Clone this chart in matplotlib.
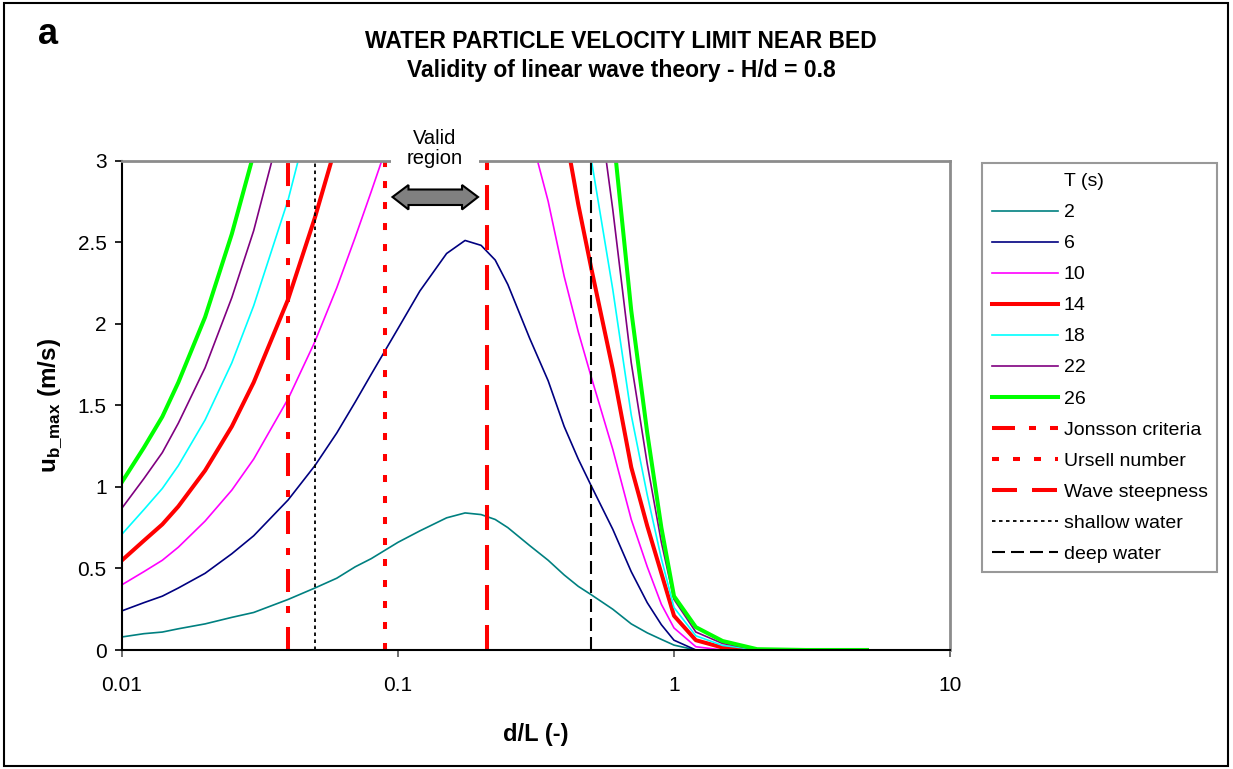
import matplotlib
matplotlib.use("Agg")
import matplotlib.pyplot as plt
from matplotlib.lines import Line2D
from matplotlib.patches import Rectangle, Polygon

plt.rcParams['font.family'] = ['Liberation Sans', 'DejaVu Sans']
plt.rcParams['mathtext.fontset'] = 'custom'
plt.rcParams['mathtext.rm'] = 'Liberation Sans'
plt.rcParams['mathtext.bf'] = 'Liberation Sans:bold'
plt.rcParams['lines.scale_dashes'] = False

# ── Data ─────────────────────────────────────────────────────────────────
d_over_L = [0.01, 0.012, 0.014, 0.016, 0.02, 0.025, 0.03, 0.04, 0.05, 0.06,
            0.07, 0.08, 0.1, 0.12, 0.15, 0.175, 0.2, 0.225, 0.25, 0.3,
            0.35, 0.4, 0.45, 0.5, 0.6, 0.7, 0.8, 0.9, 1.0, 1.2,
            1.5, 2, 3, 4, 5]

periods = ['2', '6', '10', '14', '18', '22', '26']

u_T2 = [0.08, 0.10, 0.11, 0.13, 0.16, 0.20, 0.23, 0.31, 0.38, 0.44,
        0.51, 0.56, 0.66, 0.73, 0.81, 0.84, 0.83, 0.80, 0.75, 0.64,
        0.55, 0.46, 0.39, 0.34, 0.25, 0.16, 0.105, 0.065, 0.03, 0.0,
        0.0, 0.0, 0, 0, 0]
u_T6 = [0.24, 0.29, 0.33, 0.38, 0.47, 0.59, 0.70, 0.92, 1.13, 1.33,
        1.52, 1.69, 1.97, 2.20, 2.43, 2.51, 2.48, 2.39, 2.24, 1.91,
        1.65, 1.37, 1.17, 1.01, 0.74, 0.48, 0.29, 0.155, 0.06, 0.0,
        0, 0, 0, 0, 0]
u_T10 = [0.40, 0.48, 0.55, 0.63, 0.79, 0.98, 1.17, 1.54, 1.89, 2.22,
         2.53, 2.81, 3.29, 3.67, 4.05, 4.19, 4.14, 3.98, 3.73, 3.18,
         2.75, 2.29, 1.95, 1.68, 1.23, 0.80, 0.51, 0.28, 0.135, 0.02,
         0.0, 0, 0, 0, 0]
u_T14 = [0.55, 0.67, 0.77, 0.88, 1.10, 1.37, 1.64, 2.15, 2.65, 3.11,
         3.54, 3.93, 4.61, 5.13, 5.67, 5.86, 5.80, 5.57, 5.22, 4.45,
         3.85, 3.21, 2.73, 2.35, 1.72, 1.12, 0.76, 0.47, 0.21, 0.06,
         0.015, 0.0, 0, 0, 0]
u_T18 = [0.71, 0.86, 0.99, 1.13, 1.41, 1.76, 2.11, 2.76, 3.40, 4.00,
         4.55, 5.06, 5.92, 6.60, 7.29, 7.53, 7.45, 7.16, 6.71, 5.72,
         4.95, 4.12, 3.51, 3.02, 2.21, 1.44, 0.95, 0.56, 0.26, 0.087,
         0.028, 0.002, 0, 0, 0]
u_T22 = [0.87, 1.05, 1.21, 1.39, 1.73, 2.16, 2.57, 3.38, 4.16, 4.88,
         5.56, 6.18, 7.24, 8.06, 8.91, 9.21, 9.11, 8.75, 8.20, 6.99,
         6.05, 5.04, 4.29, 3.70, 2.70, 1.76, 1.14, 0.66, 0.31, 0.11,
         0.04, 0.003, 0, 0, 0]
u_T26 = [1.03, 1.24, 1.43, 1.64, 2.04, 2.55, 3.04, 3.99, 4.91, 5.77,
         6.57, 7.31, 8.55, 9.53, 10.53, 10.88, 10.76, 10.34, 9.69, 8.26,
         7.15, 5.95, 5.07, 4.37, 3.19, 2.08, 1.33, 0.75, 0.33, 0.14,
         0.055, 0.005, 0, 0, 0]

criteria_names = ['Jonsson criteria', 'Ursell number', 'Wave steepness',
                  'shallow water', 'deep water']
criteria_x = [0.04, 0.0894, 0.21, 0.05, 0.5]

# ── Styles ───────────────────────────────────────────────────────────────
series = [u_T2, u_T6, u_T10, u_T14, u_T18, u_T22, u_T26]
colors = ['#008080', '#000080', '#FF00FF', '#FF0000', '#00FFFF', '#800080', '#00FF00']
widths = [1.2, 1.2, 1.2, 2.9, 1.2, 1.2, 2.9]

PX = 1 / 1.389  # pixel -> point at 100 dpi
crit_styles = [
    dict(color='#FF0000', lw=2.9, dashes=(23 * PX, 14 * PX, 7 * PX, 14 * PX)),
    dict(color='#FF0000', lw=2.9, dashes=(7 * PX, 14 * PX)),
    dict(color='#FF0000', lw=2.9, dashes=(25 * PX, 15 * PX)),
    dict(color='black', lw=1.3, dashes=(3.5 * PX, 3.5 * PX)),
    dict(color='black', lw=1.5, dashes=(13 * PX, 6 * PX)),
]

W, H = 1233, 769
fig = plt.figure(figsize=(W / 100, H / 100), dpi=100)
fig.patch.set_facecolor('white')
ax = fig.add_axes([122 / W, 1 - 650 / H, (950 - 122) / W, (650 - 160.5) / H])

handles = [Line2D([], [], color='none', label='T (s)')]
for vals, c, lw, lab in zip(series, colors, widths, periods):
    ln, = ax.plot(d_over_L, vals, color=c, lw=lw, label=lab,
                  solid_joinstyle='round')
    handles.append(ln)

for xv, name, st in zip(criteria_x, criteria_names, crit_styles):
    ln = ax.axvline(xv, label=name, **st)
    handles.append(ln)

ax.set_xscale('log')
ax.set_xlim(0.01, 10)
ax.set_ylim(0, 3)
ax.set_xticks([0.01, 0.1, 1, 10])
ax.set_xticklabels(['0.01', '0.1', '1', '10'])
ax.set_yticks([0, 0.5, 1, 1.5, 2, 2.5, 3])
ax.set_yticklabels(['0', '0.5', '1', '1.5', '2', '2.5', '3'])
ax.minorticks_off()
ax.tick_params(axis='x', direction='out', length=5, width=1.2, pad=14,
               labelsize=15, color='#555555')
ax.tick_params(axis='y', direction='out', length=5, width=1.2, pad=6,
               labelsize=15)

for side in ['left', 'bottom']:
    ax.spines[side].set_color('black')
    ax.spines[side].set_linewidth(1.5)
for side in ['top', 'right']:
    ax.spines[side].set_color('#8C8C8C')
    ax.spines[side].set_linewidth(2)

ax.set_xlabel('d/L (-)', fontsize=17, fontweight='bold', labelpad=20)
ax.set_ylabel(r'$\mathbf{u}_{\mathbf{b\_max}}$ (m/s)', fontsize=17.5,
              fontweight='bold', labelpad=10)

# ── Titles ───────────────────────────────────────────────────────────────
fig.text(38 / W, 1 - 35 / H, 'a', fontsize=26, fontweight='bold',
         ha='left', va='center')
fig.text(621 / W, 1 - 41 / H, 'WATER PARTICLE VELOCITY LIMIT NEAR BED',
         fontsize=16.5, fontweight='bold', ha='center', va='center')
fig.text(621 / W, 1 - 71 / H, 'Validity of linear wave theory - H/d = 0.8',
         fontsize=16.5, fontweight='bold', ha='center', va='center')

# ── "Valid region" callout ───────────────────────────────────────────────
fig.add_artist(Rectangle((391 / W, 1 - 165 / H), 88 / W, 9 / H,
                         transform=fig.transFigure, facecolor='white',
                         edgecolor='none', zorder=5))
fig.text(435 / W, 1 - 148.5 / H, 'Valid\nregion', fontsize=14.5,
         ha='center', va='center', linespacing=1.1, zorder=6)
arrow_px = [(392.5, 197), (408.5, 185), (408.5, 189.5), (462, 189.5),
            (462, 185), (478, 197), (462, 209.5), (462, 205),
            (408.5, 205), (408.5, 209.5)]
fig.add_artist(Polygon([(x / W, 1 - y / H) for x, y in arrow_px],
                       closed=True, transform=fig.transFigure,
                       facecolor='#808080', edgecolor='black', lw=1.5,
                       zorder=6))

# ── Legend ───────────────────────────────────────────────────────────────
leg = fig.legend(handles=handles, loc='upper left',
                 bbox_to_anchor=(982 / W, 1 - 163 / H),
                 bbox_transform=fig.transFigure, fontsize=14,
                 frameon=True, fancybox=False, edgecolor='#808080',
                 handlelength=3.4, handletextpad=0.3, labelspacing=0.69,
                 borderpad=0.5, borderaxespad=0)
leg.get_frame().set_linewidth(1.5)

# outer chart border
fig.add_artist(Rectangle((4 / W, 1 - 766 / H), 1224 / W, 763 / H,
                         transform=fig.transFigure, fill=False,
                         edgecolor='black', lw=1.5, zorder=10))

fig.savefig('out.png', dpi=100, facecolor='white')
